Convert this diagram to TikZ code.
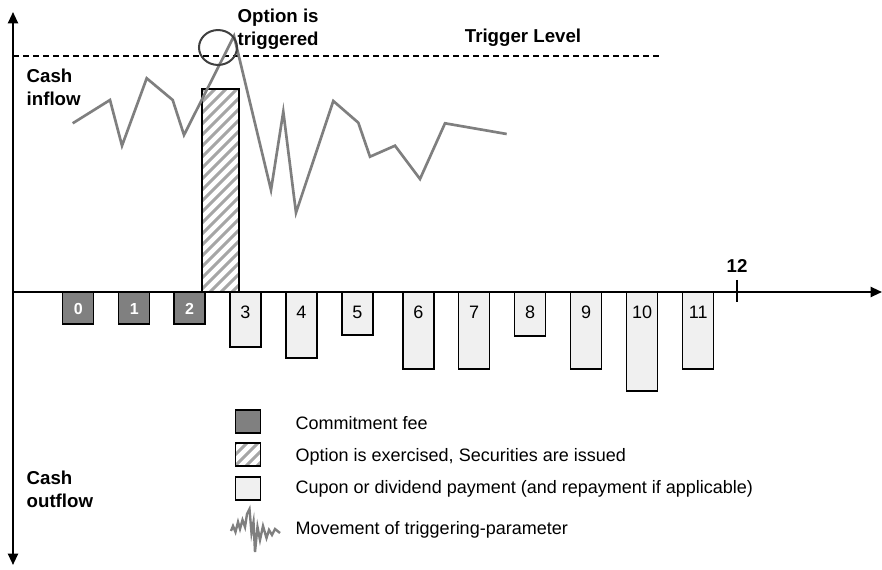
\documentclass[tikz,border=0pt]{standalone}
\usepackage{fontspec}
\setmainfont{Liberation Sans}
\usetikzlibrary{arrows.meta}
\definecolor{fee}{HTML}{808080}
\definecolor{pay}{HTML}{F0F0F0}
\definecolor{trend}{HTML}{7F7F7F}
\definecolor{hatch}{HTML}{A6A6A6}
\definecolor{ring}{HTML}{404040}

\begin{document}
\begin{tikzpicture}[
  x=.75pt,y=-.75pt,
  font=\fontsize{13.5}{17}\selectfont,
  axis/.style={line width=1.5pt,-{Triangle[length=8.5pt,width=7.5pt]}},
  bar/.style={draw=black,line width=1.1pt},
  stripe/.style={draw=hatch,line width=2.2pt},
  trendline/.style={draw=trend,line width=2pt},
  head/.style={font=\fontsize{14}{17.25}\selectfont\bfseries,align=left},
  num/.style={anchor=base}
]
  \useasboundingbox (0,0) rectangle (882,570);

  \coordinate (top) at (13,12);
  \coordinate (bottom) at (13,565);
  \coordinate (origin) at (13,292);
  \coordinate (end) at (882,292);
  \coordinate (lvlA) at (13,56);
  \coordinate (lvlB) at (660,56);

  % trigger level
  \draw[line width=.8pt,dash pattern=on 4.5pt off 3pt] (lvlA) -- (lvlB);
  \node[head] (level) at (523,38) {Trigger Level};

  % fees, before the option
  \foreach \x/\n in {62.7/0,118.7/1,174/2}{
    \draw[bar,fill=fee] (\x,292) rectangle (\x+31,324);
    \node[num,text=white,font=\fontsize{12}{14}\selectfont\bfseries]
      (fee\n) at (\x+15.5,314.5) {\n};
  }

  % coupons
  \foreach \x/\b/\n in {230/347/3,286/358/4,342/335/5,403/369/6,458.7/369/7,
      514.7/336/8,570.7/369/9,626.7/391/10,682.7/369/11}{
    \draw[bar,fill=pay] (\x,292) rectangle (\x+31,\b);
    \node[num] (pay\n) at (\x+15.5,318.5) {\n};
  }

  % issue of securities
  \fill[white] (202,89) rectangle (239,292);
  \begin{scope}
    \clip (202,89) rectangle (239,292);
    \foreach \k in {-10,1,...,240}
      \draw[stripe] (\k,292) -- ++(210,-210);
  \end{scope}
  \draw[bar] (202,89) rectangle (239,292);

  % parameter path
  \draw[trendline] (72.7,123.3) -- (110,100) -- (122,145.7) -- (146.7,78.3)
    -- (172.7,100) -- (184,135) -- (234,36) -- (271,190) -- (283.3,111.7)
    -- (296,212.7) -- (333.3,101) -- (358.3,122.7) -- (370,156.7)
    -- (395,145.7) -- (420,179) -- (445,123.3) -- (506.7,134);
  \draw[ring,line width=1.5pt] (218,47.5) ellipse [x radius=14.25pt,y radius=13.1pt];
  \node[head,anchor=base west] (trig) at (233,46) {Option is\\triggered};

  % axes
  \draw[axis] (origin) -- (end);
  \draw[axis] (origin) -- (top);
  \draw[axis] (origin) -- (bottom);
  \draw[line width=1.5pt] (737,280) -- (737,302);
  \node[head] (twelve) at (737,266) {12};
  \node[head,anchor=base west] (inflow) at (22,106) {Cash\\inflow};
  \node[head,anchor=base west] (outflow) at (22,507) {Cash\\outflow};

  % legend
  \draw[bar,fill=fee] (235.7,410) rectangle (260.7,433);
  \begin{scope}
    \clip (235.7,443) rectangle (260.7,466);
    \foreach \k in {213,224,...,262}
      \draw[stripe] (\k,466) -- ++(30,-30);
  \end{scope}
  \draw[bar] (235.7,443) rectangle (260.7,466);
  \draw[bar,fill=pay] (235.7,477) rectangle (260.7,500);
  \draw[trendline,line width=1.8pt] (231,531) -- (233,526) -- (235.5,532)
    -- (238,522) -- (240,529) -- (242.5,520) -- (245,527) -- (247,514)
    -- (249.5,509) -- (251.5,533) -- (253.5,522) -- (255,552) -- (257.5,527)
    -- (260,540) -- (263,526) -- (266.5,538) -- (269,530) -- (272,535)
    -- (275,529) -- (280,533);
  \node[anchor=base west] (keyfee) at (291,429.5) {Commitment fee};
  \node[anchor=base west] (keyopt) at (291,461) {Option is exercised, Securities are issued};
  \node[anchor=base west] (keypay) at (291,493) {Cupon or dividend payment (and repayment if applicable)};
  \node[anchor=base west] (keymove) at (291,534) {Movement of triggering-parameter};
\end{tikzpicture}
\end{document}
